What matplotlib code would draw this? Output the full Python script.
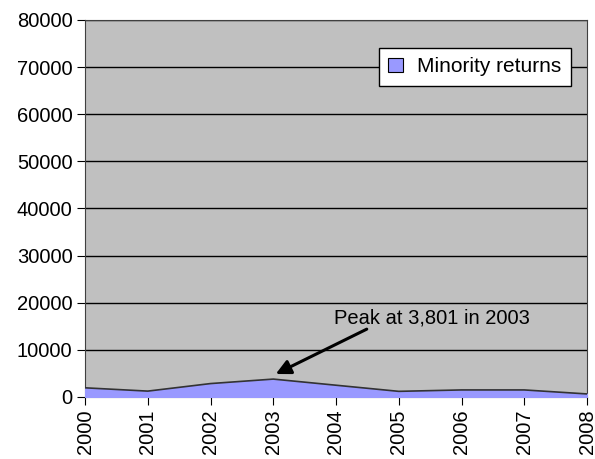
import matplotlib.pyplot as plt

plt.rcParams['font.family'] = ['Liberation Sans', 'DejaVu Sans']

years = ['2000', '2001', '2002', '2003', '2004', '2005', '2006', '2007', '2008']
returns = [1950, 1250, 2850, 3801, 2500, 1200, 1500, 1500, 650]

fig = plt.figure(figsize=(5.95, 4.59), dpi=100)
ax = fig.add_axes([85 / 595, 62 / 459, 502 / 595, 377 / 459])
ax.set_facecolor('#C0C0C0')

x = list(range(len(years)))
ax.fill_between(x, returns, 0, color='#9999FF', label='Minority returns', zorder=3)
ax.plot(x, returns, color='#333333', lw=1.2, zorder=4)

ax.set_xlim(0, len(years) - 1)
ax.set_ylim(0, 80000)
ax.set_yticks(range(0, 80001, 10000))
ax.set_xticks(x)
ax.set_xticklabels(years, rotation=90)
ax.tick_params(labelsize=14.5, direction='out', length=6, color='black', pad=3)
ax.grid(axis='y', color='black', lw=1, zorder=1)
ax.set_axisbelow(True)
for s in ax.spines.values():
    s.set_color('#404040')

# peak annotation
ax.annotate('', xy=(3.04, 4880), xytext=(4.49, 14400),
            arrowprops=dict(arrowstyle='-|>', color='black', lw=2.2, mutation_scale=22,
                            shrinkA=0, shrinkB=0), zorder=5)
ax.text(5.53, 15700, 'Peak at 3,801 in 2003', ha='center', va='baseline',
        fontsize=14.5, zorder=5)

leg = ax.legend(loc='upper right', bbox_to_anchor=(0.968, 0.926), fontsize=15,
                frameon=True, fancybox=False, edgecolor='black', framealpha=1,
                handlelength=0.7, handleheight=0.7, handletextpad=0.7,
                borderpad=0.45, borderaxespad=0)
leg.get_frame().set_linewidth(1)
leg.legend_handles[0].set_edgecolor('black')
leg.legend_handles[0].set_linewidth(0.8)

fig.savefig('out.png', dpi=100)
